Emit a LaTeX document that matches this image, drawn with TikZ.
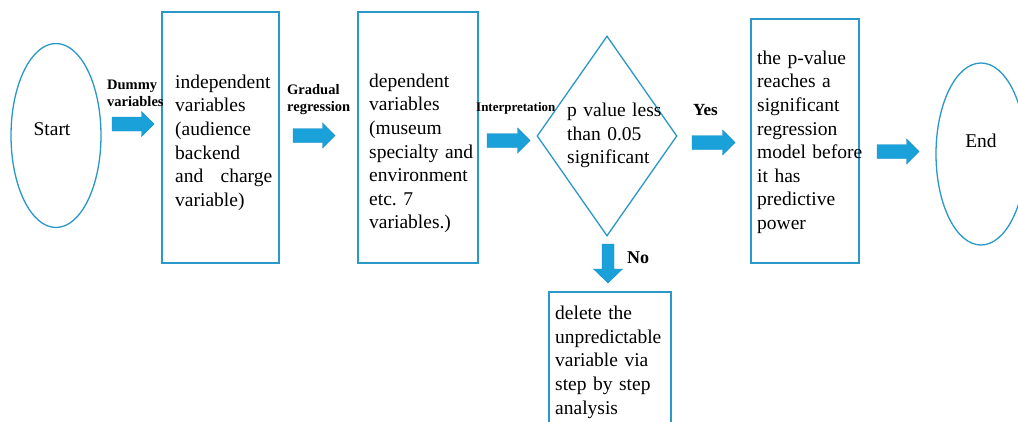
\documentclass[tikz,border=0pt]{standalone}
\usepackage{fontspec}
\setmainfont{Liberation Serif}
\usetikzlibrary{shapes.geometric}
\definecolor{boxblue}{HTML}{2A98C8}
\definecolor{arrowblue}{HTML}{1BA1DA}
\definecolor{arrowedge}{HTML}{1690C4}
\tikzset{
  outline/.style={draw=boxblue, line width=1.3pt},
  boxn/.style={outline, rectangle, inner sep=0pt},
  ovaln/.style={outline, ellipse, inner sep=0pt},
  barrow/.style={fill=arrowblue, draw=arrowedge, line width=0.4pt, line join=miter},
  bodytxt/.style={anchor=north west, inner sep=0pt, align=left, text width=#1,
    font=\fontsize{19.5}{23.6}\selectfont},
  bodytxt/.default=125pt,
  endtxt/.style={anchor=base, inner sep=0pt, font=\fontsize{19.5}{23.6}\selectfont},
  lbl/.style={anchor=north west, inner sep=0pt, align=left,
    font=\fontsize{14.5}{17.5}\selectfont\bfseries},
  lblone/.style={anchor=base west, inner sep=0pt, font=\fontsize{#1}{#1}\selectfont\bfseries}
}
% right-pointing block arrow: left x, tip x, centre y
\newcommand\rblockarrow[3]{%
  \draw[barrow] ({#1},{#3-7}) -- ({#2-12.5},{#3-7}) -- ({#2-12.5},{#3-12.5}) -- ({#2},{#3})
    -- ({#2-12.5},{#3+12.5}) -- ({#2-12.5},{#3+7}) -- ({#1},{#3+7}) -- cycle;}
% down-pointing block arrow: centre x, top y, tip y
\newcommand\dblockarrow[3]{%
  \draw[barrow] ({#1-6},{#2}) -- ({#1+6},{#2}) -- ({#1+6},{#3-14}) -- ({#1+14.5},{#3-14})
    -- ({#1},{#3}) -- ({#1-14.5},{#3-14}) -- ({#1-6},{#3-14}) -- cycle;}
\begin{document}
\begin{tikzpicture}[x=1pt,y=-1pt]
\clip (0,0) rectangle (1018,421);
\fill[white] (0,0) rectangle (1018,421);

% main shapes
\node[ovaln, minimum width=90pt, minimum height=184pt] (start) at (56,135.5) {};
\node[endtxt] (starttxt) at (52,135) {Start};

\node[boxn, minimum width=117pt, minimum height=251pt] (box1) at (220.5,137.5) {};
\node[bodytxt=97pt] (box1txt) at (175,71.5) {\strut independent\\ variables\\ (audience\\ backend\\ and\hfill charge\\ variable)};

\node[boxn, minimum width=120pt, minimum height=251pt] (box2) at (418,137.5) {};
\node[bodytxt] (box2txt) at (369,70.5) {\strut dependent\\ variables\\ (museum\\ specialty and\\ environment\\ etc.\ 7\\ variables.)};

\node[outline, diamond, inner sep=0pt, minimum width=140pt, minimum height=200pt] (dec) at (607,136) {};
\node[bodytxt] (dectxt) at (567,100) {\strut p value less\\ than 0.05\\ significant};

\node[boxn, minimum width=108pt, minimum height=244pt] (box3) at (805,141) {};
\node[bodytxt] (box3txt) at (757,47.5) {\strut the p-value\\ reaches a\\ significant\\ regression\\ model before\\ it has\\ predictive\\ power};

\node[ovaln, minimum width=90pt, minimum height=182pt] (end) at (981,154) {};
\node[endtxt] (endtxt) at (981,147) {End};

\node[boxn, minimum width=122pt, minimum height=160pt] (box4) at (610,372) {};
\node[bodytxt] (box4txt) at (555,303) {\strut delete the\\ unpredictable\\ variable via\\ step by step\\ analysis};

% block arrows
\rblockarrow{112}{154}{124}
\rblockarrow{293}{335}{135.5}
\rblockarrow{487}{530}{140.5}
\rblockarrow{692}{735}{142.5}
\rblockarrow{877}{919}{151.5}
\dblockarrow{608}{244}{283}

% arrow labels
\node[lbl] (l1) at (107,76.75) {\strut Dummy\\ variables};
\node[lbl] (l2) at (287,81.75) {\strut Gradual\\ regression};
\node[lblone=13] (l3) at (476,111) {Interpretation};
\node[lblone=17] (l4) at (693,115) {Yes};
\node[lblone=18] (l5) at (627,263) {No};
\end{tikzpicture}
\end{document}
